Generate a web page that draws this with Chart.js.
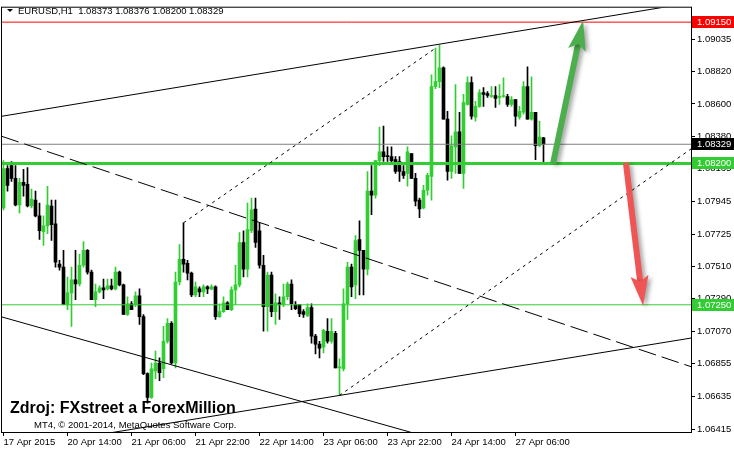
<!DOCTYPE html>
<html>
<head>
<meta charset="utf-8">
<script src="https://cdn.jsdelivr.net/npm/chart.js@4.4.0/dist/chart.umd.min.js"></script>
<style>
  html, body { margin: 0; padding: 0; background: #fff; }
</style>
</head>
<body>
<canvas id="chart" width="734" height="451"></canvas>
<script>
// EURUSD H1, 17 Apr 2015 22:00 .. 27 Apr 2015 13:00
const titleText = "EURUSD,H1  1.08373 1.08376 1.08200 1.08329";

const opens = [
  1.07901,1.08166,1.08186,1.081,1.07921,1.08073,1.0806,1.07914,1.07954,1.07848,
  1.07742,1.07781,1.07914,1.07795,1.07523,1.07503,1.07251,1.0733,1.07417,1.0739,
  1.07516,1.07616,1.0747,1.07284,1.07337,1.07364,1.07357,1.07377,1.07357,1.0747,
  1.07384,1.07185,1.07257,1.07251,1.07311,1.07171,1.06787,1.06627,1.06806,1.06859,
  1.0682,1.07005,1.07125,1.06859,1.07403,1.07556,1.07529,1.07463,1.07317,1.07357,
  1.07337,1.0737,1.07357,1.0737,1.07171,1.07204,1.07264,1.07218,1.0735,1.07384,
  1.07669,1.0749,1.07748,1.07894,1.07748,1.07516,1.07238,1.0745,1.07204,1.07264,
  1.07251,1.07304,1.0739,1.07251,1.07251,1.07204,1.07178,1.07231,1.07039,1.06986,
  1.06966,1.07072,1.07005,1.07058,1.06826,1.0682,1.07257,1.07503,1.07384,1.07689,
  1.07616,1.0749,1.08014,1.07987,1.08219,1.08279,1.08252,1.08246,1.08226,1.08213,
  1.08146,1.08133,1.08266,1.081,1.07954,1.07901,1.0802,1.08113,1.08717,1.0875,
  1.08843,1.08498,1.08146,1.08312,1.08412,1.08133,1.08597,1.08743,1.08511,1.08584,
  1.08677,1.0867,1.0865,1.08657,1.08644,1.0865,1.0865,1.08597,1.0863,1.08511,
  1.08544,1.08717,1.08498,1.08544,1.08319,1.08373
];
const highs = [
  1.08219,1.08186,1.08213,1.08186,1.081,1.0816,1.08173,1.08027,1.08014,1.07934,
  1.07848,1.08047,1.07954,1.07954,1.07549,1.07616,1.07437,1.07503,1.07616,1.07589,
  1.07675,1.07622,1.07483,1.0739,1.07377,1.07423,1.07423,1.07423,1.07503,1.07476,
  1.0739,1.07304,1.07271,1.07337,1.07357,1.07185,1.06793,1.06859,1.06939,1.06893,
  1.07105,1.07158,1.07138,1.0747,1.07655,1.07801,1.07549,1.0747,1.07403,1.0737,
  1.07384,1.07377,1.07384,1.07377,1.07257,1.07304,1.07271,1.0737,1.07516,1.07735,
  1.07748,1.07934,1.07967,1.07967,1.07801,1.07582,1.0747,1.0747,1.07324,1.07304,
  1.0739,1.07403,1.07417,1.07271,1.07251,1.07218,1.07257,1.07257,1.07052,1.07005,
  1.07085,1.07158,1.07158,1.07072,1.06886,1.07357,1.07536,1.07523,1.07715,1.07815,
  1.07616,1.08146,1.08186,1.08219,1.08445,1.08451,1.08312,1.08312,1.08246,1.08246,
  1.08186,1.08312,1.08266,1.08133,1.07967,1.08053,1.08133,1.08796,1.08975,1.08995,
  1.08849,1.08551,1.08385,1.0873,1.08544,1.08664,1.08783,1.08783,1.08617,1.08697,
  1.0871,1.08684,1.08717,1.08717,1.0873,1.08776,1.08664,1.0865,1.0863,1.08584,
  1.0875,1.08849,1.08783,1.08544,1.08484,1.08376
];
const lows = [
  1.07888,1.08014,1.0808,1.07914,1.07868,1.0798,1.07908,1.07901,1.07841,1.07689,
  1.07649,1.07728,1.07682,1.07503,1.07483,1.07251,1.07218,1.07105,1.07284,1.07377,
  1.07503,1.07456,1.07284,1.07238,1.0733,1.07291,1.0735,1.0735,1.0735,1.07377,
  1.07185,1.07178,1.07218,1.07238,1.07118,1.0678,1.06588,1.06621,1.06753,1.0674,
  1.0676,1.06992,1.06853,1.06826,1.07384,1.0747,1.07417,1.07304,1.07304,1.07304,
  1.07304,1.07324,1.0735,1.07151,1.07165,1.07198,1.07218,1.07211,1.07251,1.0737,
  1.07437,1.07437,1.07735,1.07635,1.07496,1.07072,1.07072,1.07171,1.07118,1.07151,
  1.07238,1.07284,1.07218,1.07218,1.07171,1.07165,1.07171,1.06992,1.06919,1.06893,
  1.06926,1.06992,1.06992,1.06826,1.06641,1.06806,1.07151,1.07304,1.07291,1.07317,
  1.07317,1.0745,1.07855,1.07967,1.08186,1.08213,1.08213,1.08199,1.08133,1.0808,
  1.081,1.08047,1.081,1.07914,1.07835,1.07894,1.07987,1.07954,1.08703,1.0871,
  1.08498,1.08087,1.081,1.08133,1.08133,1.08033,1.08591,1.08498,1.08484,1.08577,
  1.08584,1.08644,1.08644,1.08577,1.08597,1.08644,1.08584,1.08584,1.08451,1.08498,
  1.08531,1.08498,1.08491,1.08226,1.08312,1.082
];
const closes = [
  1.08166,1.08053,1.081,1.07921,1.08073,1.08053,1.07914,1.07961,1.07848,1.07748,
  1.07781,1.07921,1.07788,1.07536,1.07503,1.07251,1.0733,1.07417,1.0739,1.07516,
  1.07616,1.0747,1.07284,1.07337,1.07364,1.0735,1.07377,1.07357,1.0747,1.07384,
  1.07185,1.07257,1.07218,1.07311,1.07171,1.06787,1.06627,1.0682,1.06859,1.06793,
  1.07005,1.07125,1.06859,1.07403,1.07556,1.07523,1.07463,1.07317,1.0737,1.07337,
  1.0737,1.07357,1.0737,1.07171,1.07204,1.07264,1.07218,1.0735,1.07384,1.07669,
  1.0749,1.07755,1.07888,1.07669,1.07516,1.07238,1.0745,1.07204,1.07264,1.07251,
  1.07304,1.0739,1.07257,1.07224,1.07191,1.07185,1.07231,1.07039,1.06986,1.06959,
  1.07078,1.07005,1.07072,1.06826,1.06833,1.07257,1.07503,1.0737,1.07682,1.07616,
  1.0749,1.08014,1.07987,1.08219,1.08279,1.08246,1.08246,1.08219,1.08146,1.08146,
  1.0812,1.08279,1.081,1.07947,1.07894,1.0802,1.0812,1.08717,1.0875,1.08843,
  1.08498,1.08146,1.08319,1.08412,1.08133,1.0861,1.08743,1.08518,1.08584,1.08677,
  1.08664,1.08657,1.08657,1.08637,1.0865,1.08657,1.08597,1.0863,1.08518,1.08551,
  1.08717,1.08498,1.08544,1.08319,1.08378,1.08329
];

// x axis: bar index, labels every 16 bars
const timeTicks = [0, 16, 32, 48, 64, 80, 96, 112, 128];
const timeLabels = ["17 Apr 2015", "20 Apr 14:00", "21 Apr 06:00", "21 Apr 22:00",
  "22 Apr 14:00", "23 Apr 06:00", "23 Apr 22:00", "24 Apr 14:00", "27 Apr 06:00"];
const priceTicks = [1.09035, 1.08820, 1.08600, 1.08380, 1.08165, 1.07945, 1.07725,
  1.07510, 1.07290, 1.07070, 1.06855, 1.06635, 1.06415];

// horizontal levels and the price boxes on the right
const levelPrices = [1.0915, 1.08329, 1.0820, 1.0725];
const levelColors = ["#ff0000", "#808080", "#32cd32", "#32cd32"];
const levelWidths = [1, 1, 3, 1];
const boxColors = ["#ff0000", "#000000", "#32cd32", "#32cd32"];

// trend lines as [barIndex, price] end points
const channelTop = [[-0.5, 1.08517], [172, 1.09281]];
const channelBottom = [[20, 1.0636], [172, 1.07027]];
const lowerTrend = [[-0.5, 1.07169], [110, 1.06331]];
const dashedTrend = [[-0.5, 1.08383], [172, 1.06833]];
const dotFromHigh = [[45, 1.07801], [108, 1.08975]];
const dotFromLow = [[84, 1.06641], [172, 1.0830]];

const arrowUp = [[137.4, 1.0820], [144.9, 1.09161]];
const arrowDown = [[155.6, 1.08206], [159.9, 1.07244]];

const GREEN = "#32cd32";
const FONT = "'Liberation Sans', Arial, sans-serif";

const candleColors = opens.map((o, i) => closes[i] >= o ? GREEN : "#000000");

function lineDs(pts, color, width, dash) {
  return {
    type: "line",
    data: pts.map(p => ({ x: p[0], y: p[1] })),
    borderColor: color,
    borderWidth: width,
    borderDash: dash || [],
    pointRadius: 0,
    fill: false,
    order: 0
  };
}

const datasets = [
  {
    type: "bar",
    data: opens.map((o, i) => ({ x: i, y: [o, closes[i]] })),
    backgroundColor: candleColors,
    borderWidth: 0,
    barThickness: 3,
    minBarLength: 1,
    grouped: false,
    order: 2
  },
  {
    type: "bar",
    data: lows.map((l, i) => ({ x: i, y: [l, highs[i]] })),
    backgroundColor: candleColors,
    borderWidth: 0,
    barThickness: 1,
    grouped: false,
    order: 3
  },
  lineDs(channelTop, "#000", 1),
  lineDs(channelBottom, "#000", 1),
  lineDs(lowerTrend, "#000", 1),
  lineDs(dashedTrend, "#000", 1, [18, 6]),
  lineDs(dotFromHigh, "#000", 1, [3, 4]),
  lineDs(dotFromLow, "#000", 1, [3, 4])
];
levelPrices.forEach((p, k) => {
  datasets.push(lineDs([[-1, p], [180, p]], levelColors[k], levelWidths[k]));
});

function drawArrow(ctx, x1, y1, x2, y2, color) {
  const ang = Math.atan2(y2 - y1, x2 - x1);
  const c = Math.cos(ang), s = Math.sin(ang);
  const headLen = 30, headW = 18;
  const bx = x2 - headLen * c, by = y2 - headLen * s;
  const nx = x2 - headLen * 0.8 * c, ny = y2 - headLen * 0.8 * s;
  ctx.save();
  ctx.shadowColor = "rgba(0,0,0,0.35)";
  ctx.shadowBlur = 4;
  ctx.shadowOffsetX = 3;
  ctx.shadowOffsetY = 2;
  ctx.strokeStyle = color;
  ctx.fillStyle = color;
  ctx.lineWidth = 6;
  ctx.beginPath();
  ctx.moveTo(x1, y1);
  ctx.lineTo(nx, ny);
  ctx.stroke();
  ctx.beginPath();
  ctx.moveTo(x2, y2);
  ctx.lineTo(bx - headW / 2 * s, by + headW / 2 * c);
  ctx.lineTo(nx, ny);
  ctx.lineTo(bx + headW / 2 * s, by - headW / 2 * c);
  ctx.closePath();
  ctx.fill();
  ctx.restore();
}

const overlay = {
  id: "overlay",
  afterDraw(chart) {
    const ctx = chart.ctx;
    const xs = chart.scales.x, ys = chart.scales.y;
    const a = chart.chartArea;

    // frame
    ctx.save();
    ctx.strokeStyle = "#000";
    ctx.lineWidth = 1;
    ctx.strokeRect(a.left - 0.5, a.top - 0.5, a.right - a.left + 1, a.bottom - a.top + 1);
    ctx.restore();

    // arrows
    [[arrowUp, "#4cae4c"], [arrowDown, "#f05555"]].forEach(([pts, col]) => {
      drawArrow(ctx,
        xs.getPixelForValue(pts[0][0]), ys.getPixelForValue(pts[0][1]),
        xs.getPixelForValue(pts[1][0]), ys.getPixelForValue(pts[1][1]), col);
    });

    // price boxes
    ctx.save();
    ctx.font = "9.5px " + FONT;
    ctx.textBaseline = "middle";
    levelPrices.forEach((p, k) => {
      const y = Math.round(ys.getPixelForValue(p));
      ctx.fillStyle = boxColors[k];
      ctx.fillRect(a.right + 1, y - 6, 42, 12);
      ctx.fillStyle = "#fff";
      ctx.fillText(p.toFixed(5), a.right + 6, y + 0.5);
    });
    ctx.restore();

    // header
    ctx.save();
    ctx.fillStyle = "#000";
    ctx.beginPath();
    ctx.moveTo(7, 9); ctx.lineTo(13, 9); ctx.lineTo(10, 12); ctx.closePath();
    ctx.fill();
    ctx.font = "9.5px " + FONT;
    ctx.textBaseline = "alphabetic";
    ctx.fillText(titleText, 18, 14);

    // watermark texts
    ctx.font = "bold 16px " + FONT;
    ctx.fillText("Zdroj: FXstreet a ForexMillion", 10, 413);
    ctx.font = "9.5px " + FONT;
    ctx.fillText("MT4, \u00a9 2001-2014, MetaQuotes Software Corp.", 34, 428);
    ctx.restore();
  }
};

new Chart(document.getElementById("chart"), {
  type: "bar",
  data: { datasets: datasets },
  options: {
    responsive: false,
    animation: false,
    events: [],
    layout: { padding: { left: 2, top: 2, right: 0, bottom: 0 } },
    plugins: { legend: { display: false }, tooltip: { enabled: false } },
    scales: {
      x: {
        type: "linear",
        offset: false,
        min: -0.375,
        max: 171.875,
        afterBuildTicks: s => { s.ticks = timeTicks.map(v => ({ value: v })); },
        afterFit: s => { s.height = 19; },
        ticks: {
          callback: v => timeLabels[timeTicks.indexOf(v)],
          align: "start",
          autoSkip: false,
          maxRotation: 0,
          minRotation: 0,
          padding: 1,
          color: "#000",
          font: { family: FONT, size: 9.5 }
        },
        grid: { drawOnChartArea: false, tickLength: 4, color: "#000", offset: false },
        border: { display: true, color: "#000" }
      },
      y: {
        position: "right",
        beginAtZero: false,
        min: 1.06395,
        max: 1.09247,
        afterBuildTicks: s => { s.ticks = priceTicks.map(v => ({ value: v })); },
        afterFit: s => { s.width = 43; },
        ticks: {
          callback: v => v.toFixed(5),
          autoSkip: false,
          padding: 2,
          color: "#000",
          font: { family: FONT, size: 9.5 }
        },
        grid: { drawOnChartArea: false, tickLength: 4, color: "#000" },
        border: { display: true, color: "#000" }
      }
    }
  },
  plugins: [overlay]
});
</script>
</body>
</html>
